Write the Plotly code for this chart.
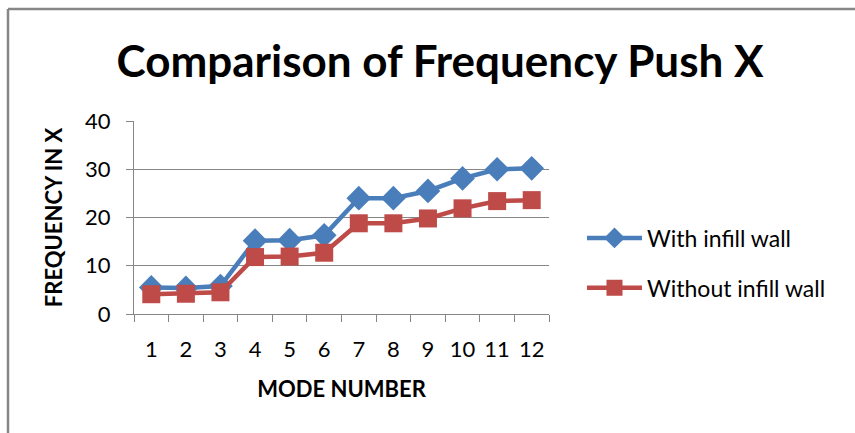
import plotly.graph_objects as go

modes = ["1", "2", "3", "4", "5", "6", "7", "8", "9", "10", "11", "12"]
with_infill = [5.5, 5.4, 5.8, 15.2, 15.3, 16.3, 24.0, 24.0, 25.5, 28.1, 30.0, 30.2]
without_infill = [4.1, 4.2, 4.5, 11.8, 11.9, 12.7, 18.8, 18.8, 19.8, 21.9, 23.4, 23.6]
y_ticks = [0, 10, 20, 30, 40]

W, H = 855, 433
L, R, T, B = 134, 855 - 549, 121, 433 - 314
pw, ph = W - L - R, H - T - B
FONT = "Lato"

fig = go.Figure()
fig.add_trace(go.Scatter(
    x=modes, y=with_infill, name="With infill wall", mode="lines+markers",
    legendgroup="a",
    line=dict(color="#4A7EBB", width=4.5),
    marker=dict(symbol="diamond", size=19, color="#4A7EBB"),
))
fig.add_trace(go.Scatter(
    x=modes, y=without_infill, name="Without infill wall", mode="lines+markers",
    legendgroup="b",
    line=dict(color="#BE4B48", width=4.5),
    marker=dict(symbol="square", size=18, color="#BE4B48"),
))

def px_x(p):
    return (p - L) / pw

def px_y(p):
    return (H - B - p) / ph

fig.update_layout(
    width=W, height=H,
    margin=dict(l=L, r=R, t=T, b=B),
    paper_bgcolor="white", plot_bgcolor="white",
    font=dict(family=FONT, color="black"),
    title=dict(text="<b>Comparison of Frequency Push X</b>", x=px_x(440), xref="paper",
               xanchor="center", y=1 - 62 / H, yanchor="middle",
               font=dict(size=44, family=FONT, color="black")),
    showlegend=True,
    legend=dict(x=px_x(582), y=px_y(263), xanchor="left", yanchor="middle",
                font=dict(size=23, family=FONT, color="black"),
                itemwidth=55, tracegroupgap=17, bgcolor="rgba(0,0,0,0)"),
    xaxis=dict(type="category", range=[-0.5, 11.5], tickson="boundaries",
               ticks="outside", ticklen=7, tickcolor="#868686",
               ticklabelstandoff=16, tickangle=0,
               showline=True, linecolor="#868686", linewidth=1, showgrid=False,
               tickfont=dict(size=22, family=FONT, color="black"),
               title=dict(text="<b>MODE NUMBER</b>", standoff=20,
                          font=dict(size=22, family=FONT, color="black"))),
    yaxis=dict(range=[0, 40], tickvals=y_ticks, ticks="outside", ticklen=7,
               ticklabelstandoff=11,
               tickcolor="#868686", showline=True, linecolor="#868686", linewidth=1,
               showgrid=True, gridcolor="#868686", gridwidth=1, zeroline=False,
               tickfont=dict(size=22, family=FONT, color="black"),
               title=dict(text="<b>FREQUENCY IN X</b>", standoff=16,
                          font=dict(size=22, family=FONT, color="black"))),
)

# chart border (top and left visible)
fig.add_shape(type="line", xref="paper", yref="paper",
              x0=px_x(8), y0=px_y(9), x1=px_x(860), y1=px_y(9),
              line=dict(color="#868686", width=2.5))
fig.add_shape(type="line", xref="paper", yref="paper",
              x0=px_x(8), y0=px_y(9), x1=px_x(8), y1=px_y(440),
              line=dict(color="#868686", width=2.5))

fig.write_html("out.html")
